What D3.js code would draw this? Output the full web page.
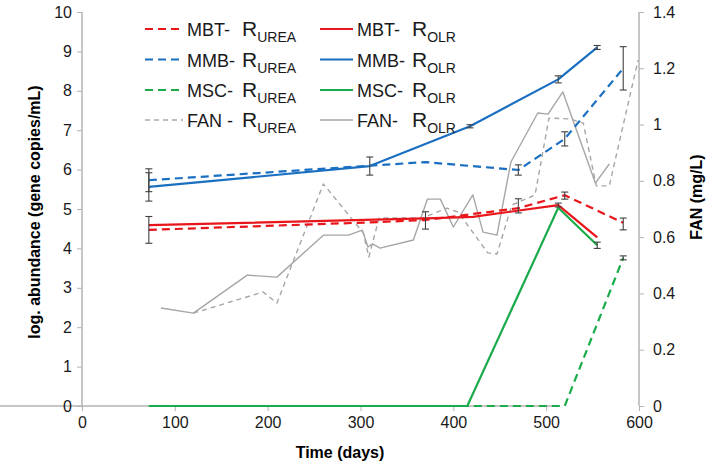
<!DOCTYPE html>
<html><head><meta charset="utf-8">
<script src="https://cdn.jsdelivr.net/npm/d3@7"></script>
<style>body{margin:0;background:#fff}svg{display:block}text{font-family:"Liberation Sans",Arial,sans-serif}</style>
</head><body><svg id="c" width="709" height="466"></svg>
<script>
// ---- data (days, value) ----
const xTicks = [0,100,200,300,400,500,600];
const yLeftTicks = [0,1,2,3,4,5,6,7,8,9,10];
const yRightTicks = [0,0.2,0.4,0.6,0.8,1,1.2,1.4];
const yRightLabels = ["0","0.2","0.4","0.6","0.8","1","1.2","1.4"];

const mbtUrea = [[72,4.47],[310,4.66],[370,4.72],[470,5.02],[520,5.35],[583,4.65]];
const mbtOlr  = [[72,4.59],[370,4.76],[421,4.80],[513,5.10],[555,4.28]];
const mmbUrea = [[72,5.73],[310,6.10],[370,6.19],[470,5.99],[520,6.78],[583,8.57]];
const mmbOlr  = [[72,5.56],[310,6.09],[418,7.10],[513,8.29],[555,9.10]];
const mscUrea = [[72,0],[416,0],[520,0],[583,3.76]];
const mscOlr  = [[72,0],[415,0],[513,5.03],[555,4.08]];
const fanUrea = [[120,0.330],[195,0.405],[210,0.366],[260,0.789],[303,0.615],[309,0.529],[320,0.668],[367,0.668],[393,0.703],[405,0.689],[427,0.590],[437,0.544],[447,0.540],[463,0.714],[488,0.750],[503,1.023],[526,1.020],[540,1.005],[554,0.782],[568,0.782],[599,1.229]];
const fanOlr  = [[85,0.348],[120,0.330],[178,0.465],[210,0.458],[260,0.607],[287,0.607],[302,0.625],[308,0.565],[313,0.576],[321,0.561],[357,0.590],[372,0.735],[386,0.735],[400,0.636],[421,0.750],[432,0.618],[447,0.607],[462,0.867],[491,1.041],[502,1.037],[518,1.116],[553,0.792],[568,0.860]];

// error bars: [day, centre, half-range]
const errBars = [[72,4.47,0.34],[72,5.73,0.29],[72,5.56,0.36],[310,6.09,0.23],[370,4.71,0.22],[418,7.10,0.04],
  [470,5.99,0.13],[470,5.08,0.18],[513,8.29,0.09],[513,5.10,0.05],[520,5.34,0.09],[520,6.78,0.18],
  [555,9.10,0.05],[555,4.08,0.08],[583,4.62,0.15],[583,3.76,0.05],[583,8.57,0.55]];

const legendNames = ["MBT-","MMB-","MSC-","FAN -"];
const legendNames2 = ["MBT-","MMB-","MSC-","FAN-"];

const red="#e8151b", blue="#1a6fc1", green="#1aab4b", grey="#a6a6a6";

const svg = d3.select("#c");
const x = d3.scaleLinear().domain([0,600]).range([82,639]);
const yL = d3.scaleLinear().domain([0,10]).range([406,12]);
const yR = d3.scaleLinear().domain([0,1.4]).range([406,12]);
const axisCol = "#b3b3b3";

// axes
const gx = svg.append("g").attr("transform","translate(0,406)")
  .call(d3.axisBottom(x).tickValues(xTicks).tickSize(5).tickPadding(6).tickFormat(d3.format("d")));
const gl = svg.append("g").attr("transform","translate(82,0)")
  .call(d3.axisLeft(yL).tickValues(yLeftTicks).tickSize(5).tickPadding(5).tickFormat(d3.format("d")));
const gr = svg.append("g").attr("transform","translate(639,0)")
  .call(d3.axisRight(yR).tickValues(yRightTicks).tickSize(5).tickPadding(9).tickFormat((d,i)=>yRightLabels[i]));
[gx,gl,gr].forEach(g=>{
  g.select(".domain").attr("stroke",axisCol).attr("stroke-width",1.5);
  g.selectAll(".tick line").attr("stroke",axisCol);
  g.selectAll(".tick text").attr("fill","#1a1a1a").style("font-size","16px");
});
gl.select(".domain").attr("d","M0,406V12");
gr.select(".domain").attr("d","M0,406V12");
gx.select(".domain").attr("d","M0,0H557");

// axis titles
svg.append("text").attr("x",340).attr("y",458).attr("text-anchor","middle")
  .style("font-size","16px").style("font-weight","bold").text("Time (days)");
svg.append("text").attr("transform","translate(40,212) rotate(-90)").attr("text-anchor","middle")
  .style("font-size","16px").style("font-weight","bold").text("log. abundance (gene copies/mL)");
svg.append("text").attr("transform","translate(702,197) rotate(-90)").attr("text-anchor","middle")
  .style("font-size","16px").style("font-weight","bold").text("FAN (mg/L)");

const lineL = d3.line().x(d=>x(d[0])).y(d=>yL(d[1]));
const lineR = d3.line().x(d=>x(d[0])).y(d=>yR(d[1]));

function draw(data, gen, col, w, dash){
  svg.append("path").datum(data).attr("d",gen).attr("fill","none")
    .attr("stroke",col).attr("stroke-width",w).attr("stroke-dasharray",dash||null)
    .attr("stroke-linejoin","round");
}
draw(fanUrea, lineR, grey, 1.4, "5,4");
draw(fanOlr, lineR, grey, 1.4);
draw(mscUrea, lineL, green, 2.2, "8,5");
draw(mscOlr, lineL, green, 2.2);
draw(mbtUrea, lineL, red, 2.2, "8,5");
draw(mbtOlr, lineL, red, 2.2);
draw(mmbUrea, lineL, blue, 2.2, "8,5");
draw(mmbOlr, lineL, blue, 2.2);

// error bars
const eb = svg.append("g").attr("stroke","#404040").attr("stroke-width",1.1);
errBars.forEach(([d,c,e])=>{
  const px=x(d), y1=yL(c+e), y2=yL(c-e);
  eb.append("line").attr("x1",px).attr("x2",px).attr("y1",y1).attr("y2",y2);
  eb.append("line").attr("x1",px-3.5).attr("x2",px+3.5).attr("y1",y1).attr("y2",y1);
  eb.append("line").attr("x1",px-3.5).attr("x2",px+3.5).attr("y1",y2).attr("y2",y2);
});

// legend
const rowsY = [29,59.5,90,120];
const cols = [
  {x0:145,x1:183,names:legendNames,sub:"UREA",dashes:["8,5","8,5","8,5","5,4"]},
  {x0:320,x1:353,names:legendNames2,sub:"OLR",dashes:[null,null,null,null]}
];
const legCols=[red,blue,green,grey];
cols.forEach(c=>{
  rowsY.forEach((ry,i)=>{
    svg.append("line").attr("x1",c.x0).attr("x2",c.x1).attr("y1",ry).attr("y2",ry)
      .attr("stroke",legCols[i]).attr("stroke-width",i===3?1.4:2.2).attr("stroke-dasharray",c.dashes[i]);
    svg.append("text").attr("x",c.x1+4).attr("y",ry+7).style("font-size","18px").attr("fill","#1a1a1a")
      .text(c.names[i]);
    const t = svg.append("text").attr("x",c.x1+59).attr("y",ry+7).attr("fill","#1a1a1a");
    t.append("tspan").style("font-size","21px").text("R");
    t.append("tspan").attr("dy",6).style("font-size","14px").text(c.sub);
  });
});
</script></body></html>
